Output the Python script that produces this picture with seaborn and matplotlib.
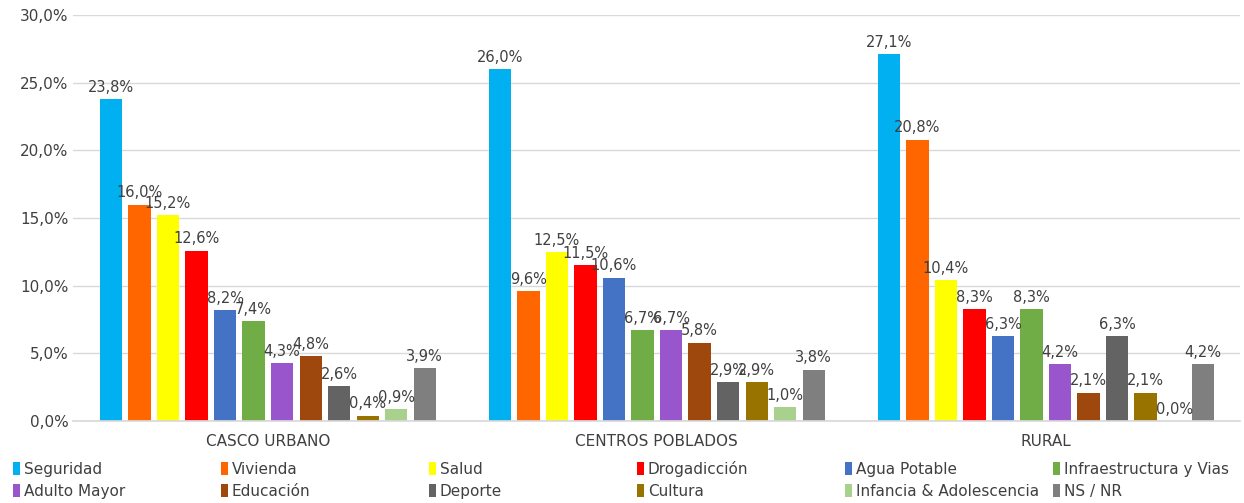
import matplotlib
matplotlib.use("Agg")
import matplotlib.pyplot as plt
import seaborn as sns
import pandas as pd
from matplotlib.ticker import FuncFormatter
from matplotlib.patches import Rectangle

zonas = ["CASCO URBANO", "CENTROS POBLADOS", "RURAL"]
categorias = ["Seguridad", "Vivienda", "Salud", "Drogadicción", "Agua Potable",
              "Infraestructura y Vias", "Adulto Mayor", "Educación", "Deporte",
              "Cultura", "Infancia & Adolescencia", "NS / NR"]
casco_urbano = [23.8, 16.0, 15.2, 12.6, 8.2, 7.4, 4.3, 4.8, 2.6, 0.4, 0.9, 3.9]
centros_poblados = [26.0, 9.6, 12.5, 11.5, 10.6, 6.7, 6.7, 5.8, 2.9, 2.9, 1.0, 3.8]
rural = [27.1, 20.8, 10.4, 8.3, 6.3, 8.3, 4.2, 2.1, 6.3, 2.1, 0.0, 4.2]
colores = ["#00B0F0", "#FF6600", "#FFFF00", "#FF0000", "#4472C4", "#70AD47",
           "#9955CC", "#9E480E", "#636363", "#997300", "#A9D18E", "#7F7F7F"]

rows = []
for zona, vals in zip(zonas, [casco_urbano, centros_poblados, rural]):
    for cat, v in zip(categorias, vals):
        rows.append({"zona": zona, "categoria": cat, "valor": v})
df = pd.DataFrame(rows)

sns.set_theme(style="white")
plt.rcParams["font.family"] = ["DejaVu Sans"]
text_color = "#404040"

fig = plt.figure(figsize=(12.44, 5.03), dpi=100)
ax = fig.add_axes([0.059, 0.163, 0.938, 0.807])

sns.barplot(data=df, x="zona", y="valor", hue="categoria", order=zonas,
            hue_order=categorias, palette=colores, width=0.88, gap=0.22,
            saturation=1, legend=False, ax=ax, edgecolor="none")

for cont in ax.containers:
    ax.bar_label(cont, labels=[f"{b.get_height():.1f}%".replace(".", ",") for b in cont],
                 padding=3, fontsize=10.5, color=text_color)

ax.set_ylim(0, 30)
ax.set_yticks([0, 5, 10, 15, 20, 25, 30])
ax.yaxis.set_major_formatter(FuncFormatter(lambda v, p: f"{v:.1f}%".replace(".", ",")))
ax.grid(axis="y", color="#D9D9D9", linewidth=1)
ax.set_axisbelow(True)
for s in ["top", "right", "left"]:
    ax.spines[s].set_visible(False)
ax.spines["bottom"].set_color("#D9D9D9")
ax.tick_params(axis="both", labelsize=11, labelcolor=text_color, length=0)
ax.tick_params(axis="x", pad=9)
ax.set_xlabel("")
ax.set_ylabel("")
ax.set_xlim(-0.5, 2.5)

# legend: 6 equal-width columns, 2 rows, row-wise order, baselines aligned
ncol = 6
x0, dx = 0.0105, 0.1672
row_base = [0.057, 0.013]
for i, (cat, col) in enumerate(zip(categorias, colores)):
    r, c = divmod(i, ncol)
    x = x0 + c * dx
    y = row_base[r]
    fig.add_artist(Rectangle((x, y - 0.002), 0.0058, 0.026, transform=fig.transFigure,
                             facecolor=col, edgecolor="none"))
    fig.text(x + 0.0085, y, cat, fontsize=11, color=text_color, va="baseline", ha="left")

fig.savefig("out.png", dpi=100)
